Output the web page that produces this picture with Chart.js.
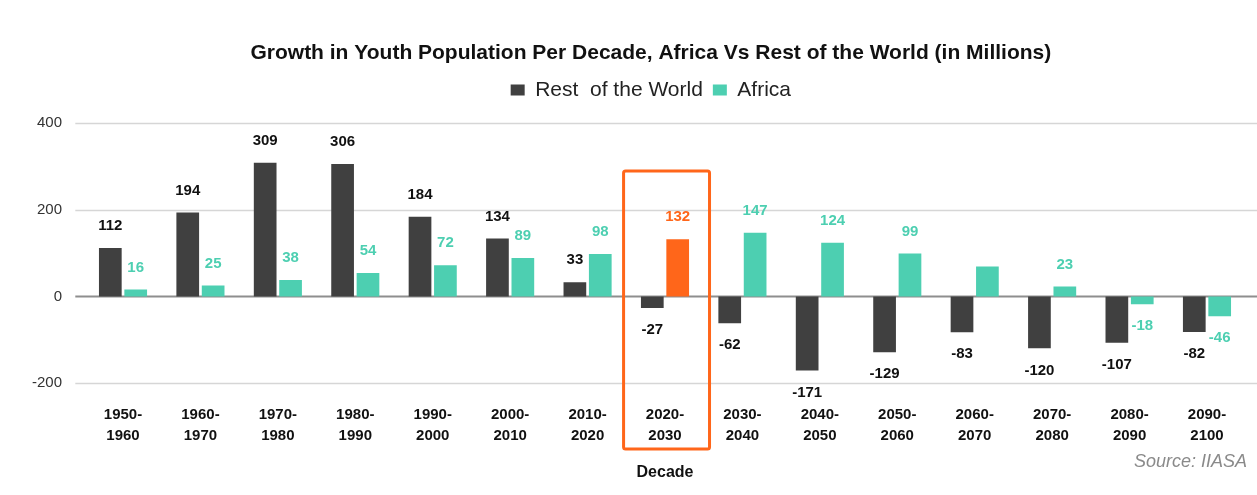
<!DOCTYPE html>
<html><head><meta charset="utf-8">
<script src="https://cdn.jsdelivr.net/npm/chart.js@4.4.1/dist/chart.umd.min.js"></script>
<style>html,body{margin:0;padding:0;background:#fff;}canvas{display:block;}</style>
</head><body>
<canvas id="c" width="1257" height="495"></canvas>
<script>
const decades = ['1950-1960','1960-1970','1970-1980','1980-1990','1990-2000','2000-2010','2010-2020','2020-2030','2030-2040','2040-2050','2050-2060','2060-2070','2070-2080','2080-2090','2090-2100'];
const restOfWorld = [112,194,309,306,184,134,33,-27,-62,-171,-129,-83,-120,-107,-82];
const africa = [16,25,38,54,72,89,98,132,147,124,99,69,23,-18,-46];
const yTickValues = [400,200,0,-200];
const highlightDecade = '2020-2030';
const unlabeledAfrica = ['2060-2070'];
const chartTitle = 'Growth in Youth Population Per Decade, Africa Vs Rest of the World (in Millions)';
const seriesNames = ['Rest  of the World','Africa'];
const axisTitle = 'Decade';
const sourceNote = 'Source: IIASA';

const DARK = '#404040', TEAL = '#4dcfb1', ORANGE = '#ff661a';
const hi = decades.indexOf(highlightDecade);
const FONT = "'Liberation Sans', Arial, Helvetica, sans-serif";
Chart.defaults.font.family = FONT;

const AREA_LEFT = 84.3, LAYOUT_LEFT = 56, LAYOUT_RIGHT = 11.3, AREA_BOTTOM = 383;
const LEGEND_EXTRA = 12.8;

const legendPad = {
  id: 'legendPad',
  beforeInit(chart) {
    const fit = chart.legend.fit;
    chart.legend.fit = function () { fit.bind(chart.legend)(); this.height += LEGEND_EXTRA; };
  }
};

const grid = {
  id: 'customGrid',
  beforeDatasetsDraw(chart) {
    const {ctx, scales: {y}, chartArea} = chart;
    ctx.save();
    yTickValues.forEach(v => {
      const py = Math.round(y.getPixelForValue(v)) + 0.5;
      ctx.beginPath();
      ctx.strokeStyle = v === 0 ? '#8e8e8e' : '#d6d6d6';
      ctx.lineWidth = v === 0 ? 2 : 1.5;
      ctx.moveTo(chartArea.left - 9, py);
      ctx.lineTo(chart.width, py);
      ctx.stroke();
    });
    ctx.restore();
  }
};

const valueLabels = {
  id: 'valueLabels',
  afterDatasetsDraw(chart) {
    const {ctx} = chart;
    ctx.save();
    ctx.font = 'bold 15px ' + FONT;
    ctx.textAlign = 'center';
    ctx.textBaseline = 'middle';
    chart.data.datasets.forEach((ds, di) => {
      const meta = chart.getDatasetMeta(di);
      meta.data.forEach((bar, i) => {
        const v = ds.data[i];
        if (di === 1 && unlabeledAfrica.includes(decades[i])) return;
        let color = di === 0 ? '#111111' : TEAL;
        if (di === 1 && i === hi) color = ORANGE;
        ctx.fillStyle = color;
        const ty = v >= 0 ? bar.y - 22 : bar.y + 22;
        ctx.fillText(String(v), bar.x, ty);
      });
    });
    ctx.restore();
  }
};

const highlightBox = {
  id: 'highlightBox',
  afterDatasetsDraw(chart) {
    const {ctx, scales: {x, y}, chartArea} = chart;
    const cx = x.getPixelForValue(hi);
    const cw = x.getPixelForValue(1) - x.getPixelForValue(0);
    const left = cx - 0.535 * cw, right = cx + 0.575 * cw;
    const top = y.getPixelForValue(290), bottom = chartArea.bottom + 66;
    ctx.save();
    ctx.strokeStyle = ORANGE;
    ctx.lineWidth = 3;
    ctx.beginPath();
    if (ctx.roundRect) ctx.roundRect(left, top, right - left, bottom - top, 2); else ctx.rect(left, top, right - left, bottom - top);
    ctx.stroke();
    ctx.restore();
  }
};

const source = {
  id: 'sourceNote',
  afterDraw(chart) {
    const {ctx} = chart;
    ctx.save();
    ctx.font = 'italic 18px ' + FONT;
    ctx.fillStyle = '#8a8a8a';
    ctx.textAlign = 'right';
    ctx.textBaseline = 'middle';
    ctx.fillText(sourceNote, chart.width - 10, 462);
    ctx.restore();
  }
};

new Chart(document.getElementById('c'), {
  type: 'bar',
  data: {
    labels: decades.map(d => { const p = d.split('-'); return [p[0] + '-', p[1]]; }),
    datasets: [
      { label: seriesNames[0], data: restOfWorld, backgroundColor: DARK, borderWidth: 0,
        categoryPercentage: 0.656, barPercentage: 0.894 },
      { label: seriesNames[1], data: africa, borderWidth: 0,
        backgroundColor: ctx => (ctx.dataIndex === hi ? ORANGE : TEAL),
        categoryPercentage: 0.656, barPercentage: 0.894 }
    ]
  },
  options: {
    responsive: false,
    animation: false,
    devicePixelRatio: 1,
    layout: { padding: { left: LAYOUT_LEFT, right: LAYOUT_RIGHT, top: 0, bottom: 0 } },
    plugins: {
      title: { display: true, text: chartTitle, color: '#111111',
        font: { size: 21, weight: 'bold' }, padding: { top: 40.4, bottom: 3.9 } },
      legend: { display: true, position: 'top',
        labels: { boxWidth: 14, boxHeight: 11, color: '#222222', font: { size: 21 }, padding: 10 } },
      tooltip: { enabled: false }
    },
    scales: {
      x: {
        grid: { display: false, drawTicks: false },
        border: { display: false },
        ticks: { color: '#111111', font: { size: 15, weight: 'bold', lineHeight: 1.4 }, padding: 21.5, maxRotation: 0, autoSkip: false },
        title: { display: true, text: axisTitle, color: '#111111', font: { size: 16, weight: 'bold' }, padding: { top: 4, bottom: 12.6 } },
        afterFit(s) { s.height = 495 - AREA_BOTTOM; }
      },
      y: {
        min: -200, max: 400,
        grid: { display: false, drawTicks: false },
        border: { display: false },
        afterBuildTicks(s) { s.ticks = yTickValues.map(v => ({ value: v })); },
        ticks: { color: '#333333', font: { size: 15 }, padding: 22.3 },
        afterFit(s) {
          s.width = AREA_LEFT - LAYOUT_LEFT;
          s._computeLabelArea = function () { return undefined; };
        }
      }
    }
  },
  plugins: [legendPad, grid, valueLabels, highlightBox, source]
});
</script>
</body></html>
